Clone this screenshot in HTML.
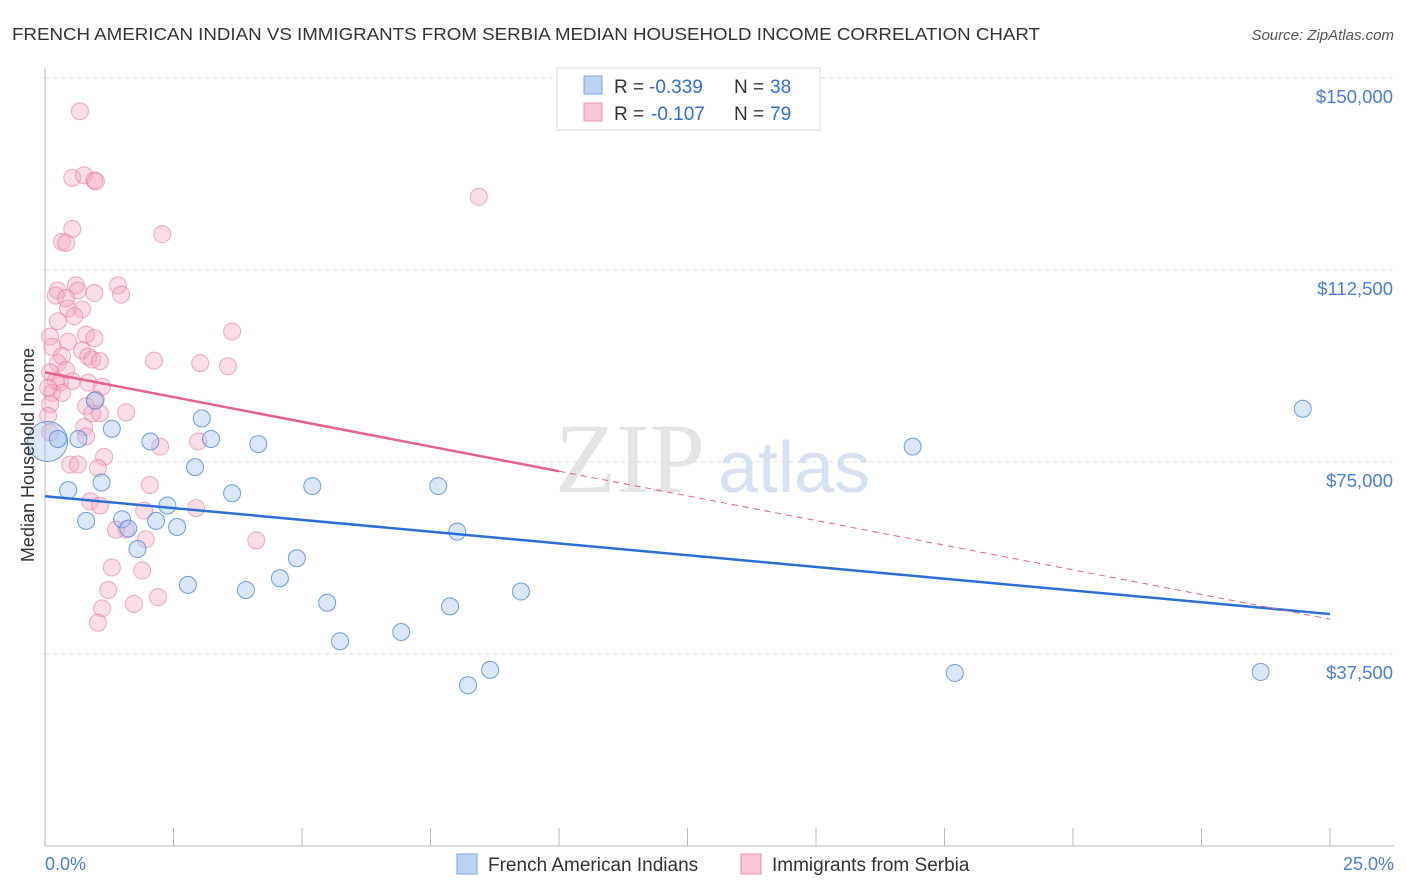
<!DOCTYPE html>
<html><head><meta charset="utf-8"><style>
body{margin:0;background:#fff;font-family:"Liberation Sans",sans-serif;}
#wrap{position:relative;width:1406px;height:892px;overflow:hidden;}
</style></head><body>
<div id="wrap">
<svg id="svg" width="1406" height="892" xmlns="http://www.w3.org/2000/svg">
<text x="12" y="40" font-size="17.5" fill="#333" textLength="1028" lengthAdjust="spacingAndGlyphs">FRENCH AMERICAN INDIAN VS IMMIGRANTS FROM SERBIA MEDIAN HOUSEHOLD INCOME CORRELATION CHART</text>
<text x="1394" y="40" font-size="15" fill="#555" font-style="italic" text-anchor="end">Source: ZipAtlas.com</text>
<text x="555" y="492" font-size="100" fill="#e4e4e4" font-family="Liberation Serif">ZIP</text>
<text x="718" y="492" font-size="72" fill="#d4e2f4">atlas</text>
<g id="grid"></g><g id="pts"></g><g id="lines"></g>
<text transform="translate(34,455) rotate(-90)" font-size="18" fill="#333" text-anchor="middle">Median Household Income</text>
<text x="45" y="870" font-size="18" fill="#4a7fd4">0.0%</text>
<text x="1394" y="870" font-size="18" fill="#4a7fd4" text-anchor="end">25.0%</text>
<g>
<rect x="557" y="68" width="263" height="62" fill="#fff" stroke="#ddd"/>
<rect x="584" y="76" width="18" height="18" fill="#bcd4f4" stroke="#7aa6e6"/>
<rect x="584" y="103" width="18" height="18" fill="#f9c6d6" stroke="#ec8fae"/>
<text x="614" y="93" font-size="19" fill="#333">R =</text>
<text x="649" y="93" font-size="19" fill="#2f6fd6">-0.339</text>
<text x="734" y="93" font-size="19" fill="#333">N =</text>
<text x="770" y="93" font-size="19" fill="#2f6fd6">38</text>
<text x="614" y="120" font-size="19" fill="#333">R =</text>
<text x="651" y="120" font-size="19" fill="#2f6fd6">-0.107</text>
<text x="734" y="120" font-size="19" fill="#333">N =</text>
<text x="770" y="120" font-size="19" fill="#2f6fd6">79</text>
</g>
<g>
<rect x="457" y="854" width="20" height="20" fill="#bcd4f4" stroke="#7aa6e6"/>
<text x="488" y="871" font-size="19" fill="#333">French American Indians</text>
<rect x="741" y="854" width="20" height="20" fill="#f9c6d6" stroke="#ec8fae"/>
<text x="772" y="871" font-size="19" fill="#333">Immigrants from Serbia</text>
</g>
</svg>
</div>
<script>
const yTicks=[37500,75000,112500,150000];
const yTickLabels=["$37,500","$75,000","$112,500","$150,000"];
const xTicks=[0,2.5,5,7.5,10,12.5,15,17.5,20,22.5,25];
const blueX=[0.05,0.25,0.45,0.65,0.8,0.97,1.1,1.3,1.5,1.62,1.8,2.05,2.16,2.38,2.57,2.78,2.92,3.05,3.23,3.64,3.91,4.15,4.57,4.9,5.2,5.49,5.74,6.93,7.65,7.88,8.02,8.23,8.66,9.26,16.88,17.7,23.65,24.47];
const blueY=[79000,79500,69500,79500,63500,87000,71000,81500,63800,62000,58000,79000,63500,66500,62300,51000,74000,83500,79500,68900,50000,78500,52300,56200,70300,47500,40000,41800,70300,46800,61400,31400,34400,49700,78000,33800,34000,85400];
const pinkX=[0.68,0.53,0.76,0.96,0.99,0.53,0.33,0.41,2.28,8.44,0.25,0.6,0.96,0.21,1.42,1.48,0.64,0.45,0.72,0.25,0.57,0.1,0.8,0.96,0.14,0.45,0.72,0.33,0.84,0.25,0.92,1.07,2.12,3.02,3.56,3.64,0.1,0.41,0.53,0.29,0.21,0.84,1.11,0.14,0.33,0.99,0.1,0.8,0.92,1.07,1.58,0.06,0.76,0.1,0.8,2.98,2.24,1.15,0.49,0.64,1.03,2.04,0.88,1.07,2.94,1.93,1.58,1.38,1.96,4.11,1.3,1.89,1.23,1.73,2.2,1.11,1.03,0.06,0.41];
const pinkY=[143500,130500,131000,130000,129800,120500,118000,117800,119500,126800,108500,109500,108000,107500,109500,107700,108500,105000,104800,102500,103500,99500,99900,99200,97500,98500,96800,95700,95600,94300,95000,94700,94800,94300,93700,100500,92500,93000,90800,90500,90800,90500,89700,88500,88500,87200,86300,85900,84500,84500,84700,84000,81800,80800,80000,79000,78000,76000,74500,74500,73800,70500,67300,66500,66000,65500,61800,61800,59900,59700,54400,53800,50000,47300,48600,46400,43600,89500,107000];
const X0=45,X1=1330,Y0=846,Y150=78;
const sx=v=>X0+(X1-X0)*v/25;
const sy=v=>Y0-(Y0-Y150)*v/150000;
const NS="http://www.w3.org/2000/svg";
function mk(t,a,p){const e=document.createElementNS(NS,t);for(const k in a)e.setAttribute(k,a[k]);p.appendChild(e);return e;}
const grid=document.getElementById('grid'),pts=document.getElementById('pts'),lines=document.getElementById('lines');
yTicks.forEach((t,i)=>{
 const l=mk('line',{x1:X0,x2:1394,y1:sy(t),y2:sy(t),stroke:'#ddd','stroke-dasharray':'4,4'},grid);
 
 
 const tx=mk('text',{x:1393,y:sy(t)+25,'font-size':18.5,fill:'#4a7fd4','text-anchor':'end'},grid);
 tx.textContent=yTickLabels[i];
 
 
});
const ax=mk('line',{x1:X0,x2:X0,y1:68,y2:Y0,stroke:'#bbb'},grid);


const bx=mk('line',{x1:X0,x2:1394,y1:Y0,y2:Y0,stroke:'#bbb'},grid);


xTicks.forEach(t=>{const l=mk('line',{x1:sx(t),x2:sx(t),y1:828,y2:Y0,stroke:'#bbb'},grid);
 
 });
pinkX.forEach((x,i)=>{const c=mk('circle',{cx:sx(x),cy:sy(pinkY[i]),r:8.5,fill:'rgba(246,170,196,0.4)',stroke:'rgba(232,120,160,0.6)','stroke-width':1},pts);
 
 });
blueX.forEach((x,i)=>{const c=mk('circle',{cx:sx(x),cy:sy(blueY[i]),r:i==0?20:8.5,fill:'rgba(160,196,240,0.4)',stroke:'rgba(70,130,215,0.75)','stroke-width':1},pts);
 
 });
const bl=mk('line',{x1:sx(0),y1:sy(68300),x2:sx(25),y2:sy(45300),stroke:'#2a6fd6','stroke-width':2.5},lines);


const pl=mk('line',{x1:sx(0),y1:sy(92500),x2:sx(10),y2:sy(73200),stroke:'#e8608c','stroke-width':2.5},lines);


const pd=mk('line',{x1:sx(10),y1:sy(73200),x2:sx(25),y2:sy(44300),stroke:'#e8608c','stroke-width':1,'stroke-dasharray':'6,5'},lines);


</script>
</body></html>
